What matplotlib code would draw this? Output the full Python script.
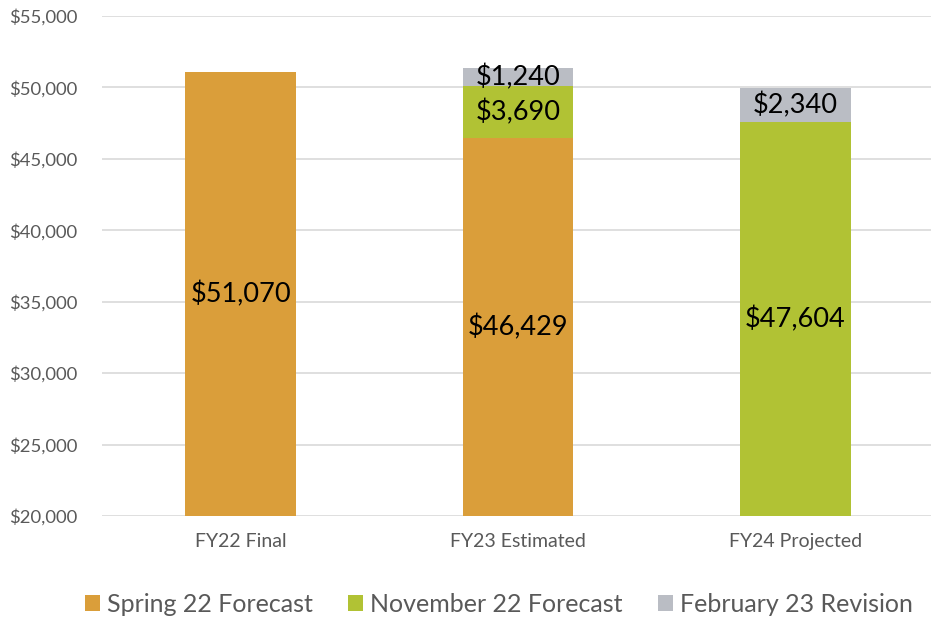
import numpy as np
import matplotlib
matplotlib.use("Agg")
import matplotlib.pyplot as plt
from matplotlib.ticker import FuncFormatter

categories = ["FY22 Final", "FY23 Estimated", "FY24 Projected"]
series_names = ["Spring 22 Forecast", "November 22 Forecast", "February 23 Revision"]
spring22 = [51070, 46429, 0]
nov22 = [0, 3690, 47604]
feb23 = [0, 1240, 2340]
colors = ["#DA9E3A", "#B1C234", "#BABDC4"]

plt.rcParams['font.family'] = ['Lato', 'DejaVu Sans']

fig = plt.figure(figsize=(9.31, 6.19), dpi=100)
ax = fig.add_axes([102 / 931, 1 - 516 / 619, 832 / 931, 500 / 619])

ymin, ymax = 20000, 55000
x = np.arange(len(categories))
bottom = np.zeros(len(categories))
for name, vals, c in zip(series_names, [spring22, nov22, feb23], colors):
    vals = np.array(vals, dtype=float)
    ax.bar(x, vals, 0.4, bottom=bottom, color=c, label=name, zorder=2)
    for i, v in enumerate(vals):
        if v > 0:
            lo = max(bottom[i], ymin)
            hi = bottom[i] + v
            ax.text(x[i], (lo + hi) / 2, "${:,.0f}".format(v), ha="center", va="center",
                    fontsize=19.5, color="black", zorder=3)
    bottom += vals

ax.set_xlim(-0.5, 2.5)
ax.set_ylim(ymin, ymax)
ax.set_yticks(np.arange(20000, 55001, 5000))
ax.yaxis.set_major_formatter(FuncFormatter(lambda v, p: "${:,.0f}".format(v)))
ax.set_xticks(x)
ax.set_xticklabels(categories)
ax.grid(axis="y", color="#D9D9D9", linewidth=1.2, zorder=0)
for s in ax.spines.values():
    s.set_visible(False)
ax.tick_params(axis="y", length=0, colors="#595959", labelsize=13.3, pad=18)
ax.tick_params(axis="x", length=0, colors="#595959", labelsize=14, pad=12)

fig.legend(loc="center", bbox_to_anchor=(499 / 931, 1 - 604 / 619),
           ncol=3, frameon=False, fontsize=18,
           labelcolor="#595959", handlelength=0.6, handleheight=0.6,
           handletextpad=0.3, columnspacing=1.4)

fig.savefig("out.png", dpi=100)
